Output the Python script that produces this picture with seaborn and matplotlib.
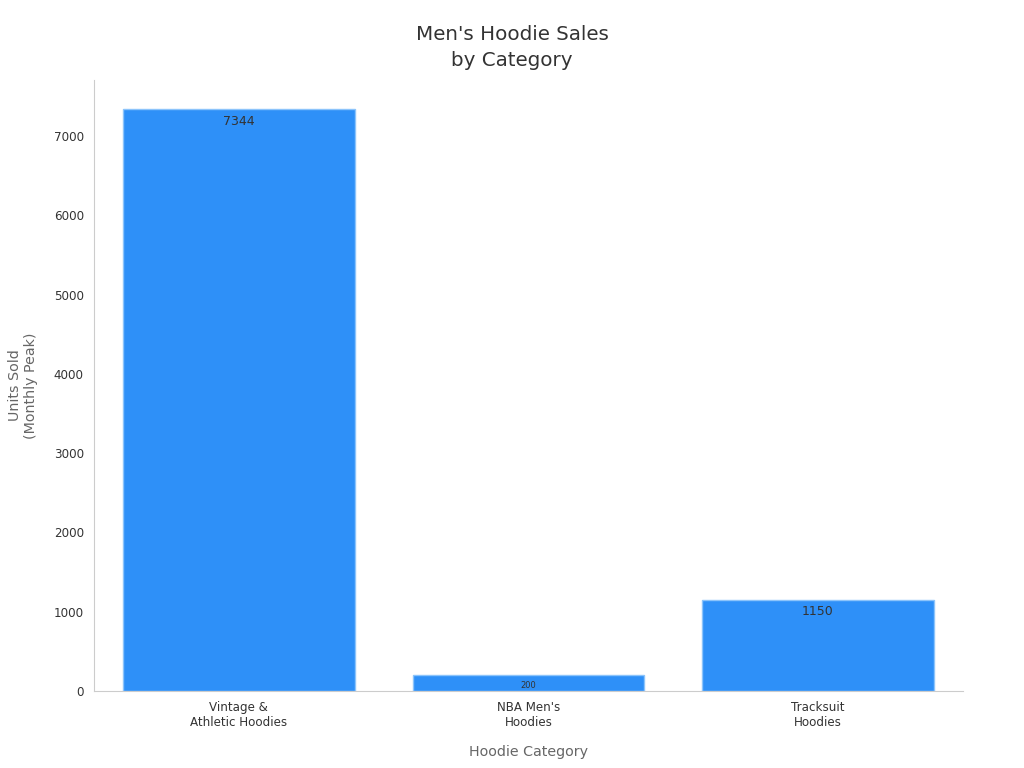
import matplotlib
matplotlib.use("Agg")
import matplotlib.pyplot as plt
import seaborn as sns
import pandas as pd

# chart data
categories = ["Vintage &\nAthletic Hoodies", "NBA Men's\nHoodies", "Tracksuit\nHoodies"]
units_sold = [7344, 200, 1150]
label_sizes = [9, 6, 9]

df = pd.DataFrame({"Category": categories, "Units": units_sold})

sns.set_style("white")
plt.rcParams['font.family'] = ['DejaVu Sans']

fig = plt.figure(figsize=(10.24, 7.68), dpi=100)
ax = fig.add_axes([0.092, 0.1003, 0.848, 0.7957])

sns.barplot(data=df, x="Category", y="Units", color="#2E90F8", saturation=1,
            width=0.8, edgecolor="#8CC4FB", linewidth=1, ax=ax)

ax.set_xlim(-0.5, 2.5)
ax.set_ylim(0, max(units_sold) * 1.05)

# value labels just inside the top of each bar
for i, (v, s) in enumerate(zip(units_sold, label_sizes)):
    ax.annotate(str(v), (i, v), xytext=(0, -4), textcoords="offset points",
                ha="center", va="top", fontsize=s, color="#333333")

# title is centred on the figure, not the axes
ax.set_title("Men's Hoodie Sales\nby Category", fontsize=14.3, color="#333333",
             pad=10, linespacing=1.45, x=(0.5 - 0.092) / 0.848)
ax.set_xlabel("Hoodie Category", fontsize=10.3, color="#666666", labelpad=11)
ax.set_ylabel("Units Sold\n(Monthly Peak)", fontsize=10.3, color="#666666", labelpad=11)

ax.tick_params(axis="both", labelsize=8.6, colors="#333333", length=4, color="#555555")
sns.despine(ax=ax)
for sp in ["left", "bottom"]:
    ax.spines[sp].set_color("#CCCCCC")

fig.savefig("out.png", dpi=100)
